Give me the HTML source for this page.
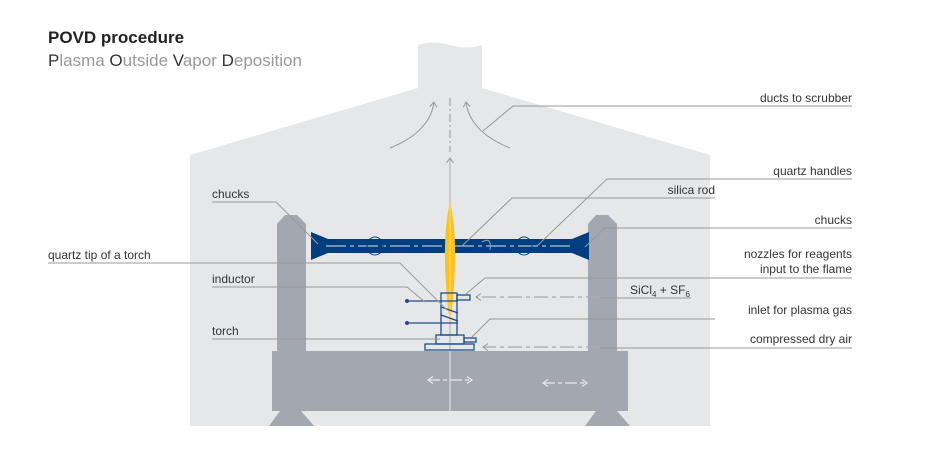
<!DOCTYPE html>
<html><head><meta charset="utf-8"><style>
html,body{margin:0;padding:0;background:#fff;}
svg{display:block;}
text{font-family:"Liberation Sans",sans-serif;}
</style></head><body>
<svg width="930" height="457" viewBox="0 0 930 457" xmlns="http://www.w3.org/2000/svg">
<defs>
<marker id="ah" markerWidth="8" markerHeight="8" refX="6" refY="4" orient="auto-start-reverse" markerUnits="userSpaceOnUse">
<path d="M1,0.5 L6,4 L1,7.5" fill="none" stroke="#999" stroke-width="1"/></marker>
<marker id="aw" markerWidth="8" markerHeight="8" refX="6" refY="4" orient="auto-start-reverse" markerUnits="userSpaceOnUse">
<path d="M1,0.5 L6,4 L1,7.5" fill="none" stroke="#e8e9eb" stroke-width="1.2"/></marker>
</defs>
<text x="48" y="43" font-size="17" font-weight="bold" fill="#222">POVD procedure</text>
<text x="48" y="66" font-size="17" fill="#999"><tspan fill="#333">P</tspan>lasma <tspan fill="#333">O</tspan>utside <tspan fill="#333">V</tspan>apor <tspan fill="#333">D</tspan>eposition</text>

<path d="M190,155 L418,88 L418,45 Q433,40 450,45 Q467,50 482,45 L482,88 L710,155 L710,426 L190,426 Z" fill="#e6e7e9"/>

<!-- center line -->
<line x1="450" y1="98" x2="450" y2="152" stroke="#999" stroke-width="1" stroke-dasharray="8,3,2,3"/>
<line x1="450" y1="426" x2="450" y2="158" stroke="#aaa" stroke-width="1" marker-end="url(#ah)"/>
<path d="M390,148 Q430,132 434,102" fill="none" stroke="#999" stroke-width="1" marker-end="url(#ah)"/>
<path d="M510,148 Q470,132 466,102" fill="none" stroke="#999" stroke-width="1" marker-end="url(#ah)"/>

<!-- pillars -->
<path d="M277,224 L285,215 L297,215 L306,224 L306,352 L277,352 Z" fill="#a2a7b0"/>
<path d="M588,224 L596,215 L608,215 L617,224 L617,352 L588,352 Z" fill="#a2a7b0"/>
<rect x="272" y="351" width="356" height="60" fill="#a2a7b0"/>
<path d="M280,411 L301,411 L314,426 L269,426 Z" fill="#a2a7b0"/>
<path d="M596,411 L617,411 L630,426 L585,426 Z" fill="#a2a7b0"/>
<line x1="450" y1="351" x2="450" y2="426" stroke="#e8e9eb" stroke-width="1"/>
<line x1="428" y1="380" x2="472" y2="380" stroke="#e8e9eb" stroke-width="1.2" stroke-dasharray="12,3,4,3" marker-start="url(#aw)" marker-end="url(#aw)"/>
<line x1="543" y1="383" x2="587" y2="383" stroke="#e8e9eb" stroke-width="1.2" stroke-dasharray="12,3,4,3" marker-start="url(#aw)" marker-end="url(#aw)"/>

<!-- rod -->
<path d="M311,232 L328,239 L572,239 L589,232 L589,260 L572,253 L328,253 L311,260 Z" fill="#003f7f"/>
<line x1="326" y1="246" x2="574" y2="246" stroke="#dfe3ea" stroke-width="1" stroke-dasharray="20,4,4,4"/>
<ellipse cx="375" cy="246" rx="8" ry="9" fill="none" stroke="#003f7f" stroke-width="1"/>
<ellipse cx="524" cy="246" rx="8" ry="9" fill="none" stroke="#003f7f" stroke-width="1"/>
<path d="M482,242 Q492,236 490,250" fill="none" stroke="#9aa" stroke-width="1"/>

<!-- flame -->
<path d="M450,201 Q456,230 455,262 Q454,300 450,322 Q446,300 445,262 Q444,230 450,201 Z" fill="#fbc21b"/>
<line x1="450" y1="206" x2="450" y2="318" stroke="#fde08a" stroke-width="1"/>

<!-- torch -->
<g fill="none" stroke="#1f4e86" stroke-width="1.3">
<rect x="441" y="293" width="16" height="42"/>
<rect x="457" y="295" width="13" height="5"/>
<rect x="436" y="335" width="28" height="9"/>
<rect x="464" y="338" width="12" height="4"/>
<rect x="425" y="344" width="49" height="6"/>
<line x1="408" y1="301" x2="458" y2="301"/>
<line x1="408" y1="323" x2="458" y2="323"/>
<path d="M441,307 L458,313 M441,315 L458,321"/>
</g>
<circle cx="407" cy="301" r="2" fill="#1f4e86"/><circle cx="407" cy="323" r="2" fill="#1f4e86"/>

<!-- leader lines -->
<g fill="none" stroke="#999" stroke-width="1">
<path d="M212,202 L276,202 L318,244"/>
<path d="M48,263 L400,263 L447,310"/>
<path d="M212,287 L407,287 L425,302"/>
<path d="M212,339 L440,339"/>
<path d="M852,106 L513,106 L483,131"/>
<path d="M852,179 L607,179 L537,246"/>
<path d="M715,198 L512,198 L462,246"/>
<path d="M852,228 L605,228 L585,247"/>
<path d="M852,278 L485,278 L466,294"/>
<path d="M715,319 L490,319 L472,337"/>
<path d="M852,348 L600,348"/>
<path d="M691,298 L600,298"/>
</g>
<line x1="600" y1="297" x2="476" y2="297" stroke="#aaa" stroke-width="1.3" stroke-dasharray="14,4,4,4" marker-end="url(#ah)"/>
<line x1="600" y1="347" x2="483" y2="347" stroke="#aaa" stroke-width="1.3" stroke-dasharray="14,4,4,4" marker-end="url(#ah)"/>

<g font-size="12" fill="#333">
<text x="212" y="198">chucks</text>
<text x="48" y="259">quartz tip of a torch</text>
<text x="212" y="283">inductor</text>
<text x="212" y="335">torch</text>
<g text-anchor="end">
<text x="852" y="102">ducts to scrubber</text>
<text x="852" y="175">quartz handles</text>
<text x="715" y="194">silica rod</text>
<text x="852" y="224">chucks</text>
<text x="852" y="258">nozzles for reagents</text>
<text x="852" y="273">input to the flame</text>
<text x="852" y="314">inlet for plasma gas</text>
<text x="852" y="343">compressed dry air</text>
</g>
<text x="630" y="294">SiCl<tspan font-size="8" dy="3">4</tspan><tspan dy="-3"> + SF</tspan><tspan font-size="8" dy="3">6</tspan></text>
</g>
</svg>
</body></html>
